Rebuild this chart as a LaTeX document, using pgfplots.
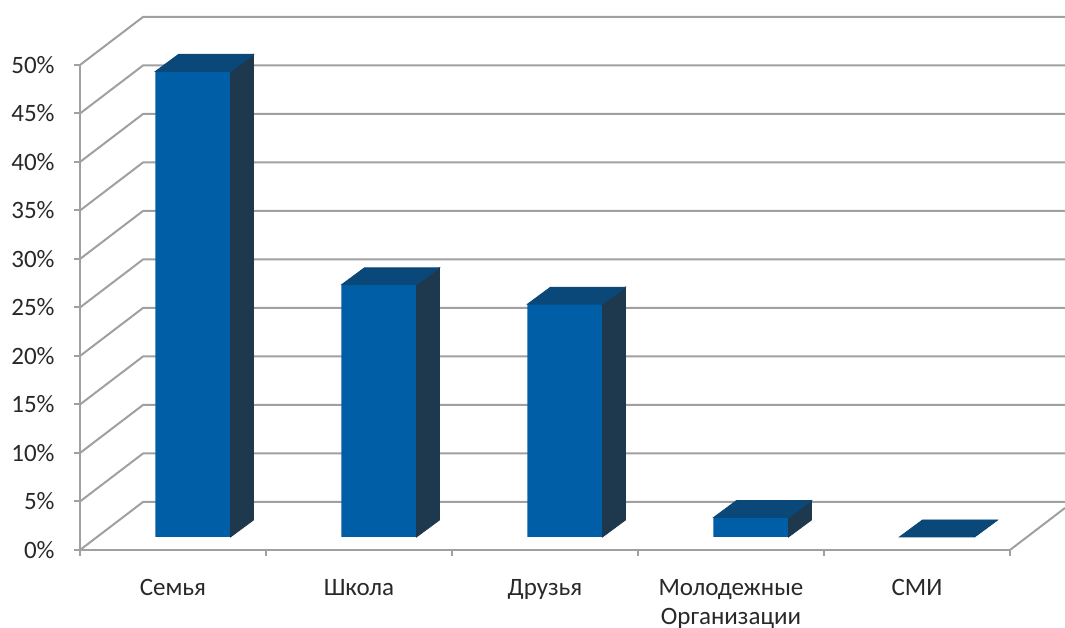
\documentclass[border=0pt]{standalone}
\usepackage{fontspec}
\setmainfont{Carlito}
\usepackage{pgfplots}
\pgfplotsset{compat=1.18}

\definecolor{barfront}{RGB}{0,94,166}
\definecolor{bartop}{RGB}{10,72,122}
\definecolor{barside}{RGB}{30,56,78}
\definecolor{gridgray}{RGB}{160,160,160}
\definecolor{labelgray}{RGB}{40,40,40}

\pgfdeclareplotmark{empty3d}{}

\begin{document}
\begin{tikzpicture}
\begin{axis}[
  x=93pt, y=4.85pt,
  xmin=-0.5, xmax=4.5, ymin=0, ymax=50,
  enlargelimits=false,
  clip=false,
  axis x line*=bottom, axis y line*=left,
  axis line style={gridgray, line width=1pt},
  every tick/.style={gridgray, line width=1pt},
  tick align=outside, major tick length=3pt,
  ytick={0,5,...,50},
  yticklabel={\pgfmathparse{int(\tick)}\pgfmathresult\%},
  yticklabel style={anchor=east, inner sep=0pt, xshift=-9.5pt},
  xtick={-0.5,0.5,...,4.5}, xticklabels={},
  extra x ticks={0,1,2,3,4},
  extra x tick labels={Семья,Школа,Друзья,Молодежные\\Организации,СМИ},
  extra x tick style={major tick length=0pt,
    xticklabel style={align=center, anchor=north, inner sep=0pt, yshift=-14.5pt}},
  tick label style={font=\fontsize{12.5}{14.5}\selectfont, text=labelgray},
]
% walls: left wall diagonals, back wall grid, floor edge
\pgfplotsinvokeforeach{0,5,...,50}{
  \draw[gridgray, line width=1pt] (axis cs:-0.5,#1) -- ++(31.5pt,24pt)
    -- ([shift={(31.5pt,24pt)}]axis cs:4.46,#1);
}
\draw[gridgray, line width=1pt] (axis cs:4.5,0) -- ++(27.5pt,21pt);

% front faces
\addplot[ybar, bar width=37.5pt, fill=barfront, draw=none,
  xshift=10pt, yshift=6.5pt]
  coordinates {(0,48) (1,26) (2,24) (3,2) (4,0)};

% top and side faces
\addplot[scatter, only marks, mark=empty3d,
  visualization depends on={rawy \as \rawy},
  scatter/@pre marker code/.code={%
    \pgfmathsetmacro\h{\rawy*4.85}%
    \fill[barside] (28.75pt,6.5pt) -- ++(11.5pt,8.5pt) -- ++(0pt,-\h pt)
      -- ++(-11.5pt,-8.5pt) -- cycle;
    \fill[bartop] (-8.75pt,6.5pt) -- ++(37.5pt,0pt) -- ++(11.5pt,8.5pt)
      -- ++(-37.5pt,0pt) -- cycle;
  },
  scatter/@post marker code/.code={}]
  coordinates {(0,48) (1,26) (2,24) (3,2) (4,0)};

\coordinate (bbBL) at (axis cs:-0.930,-8.04);
\coordinate (bbTR) at (axis cs:4.796,56.7);
\end{axis}
\pgfresetboundingbox
\useasboundingbox (bbBL) rectangle (bbTR);
\end{tikzpicture}
\end{document}
